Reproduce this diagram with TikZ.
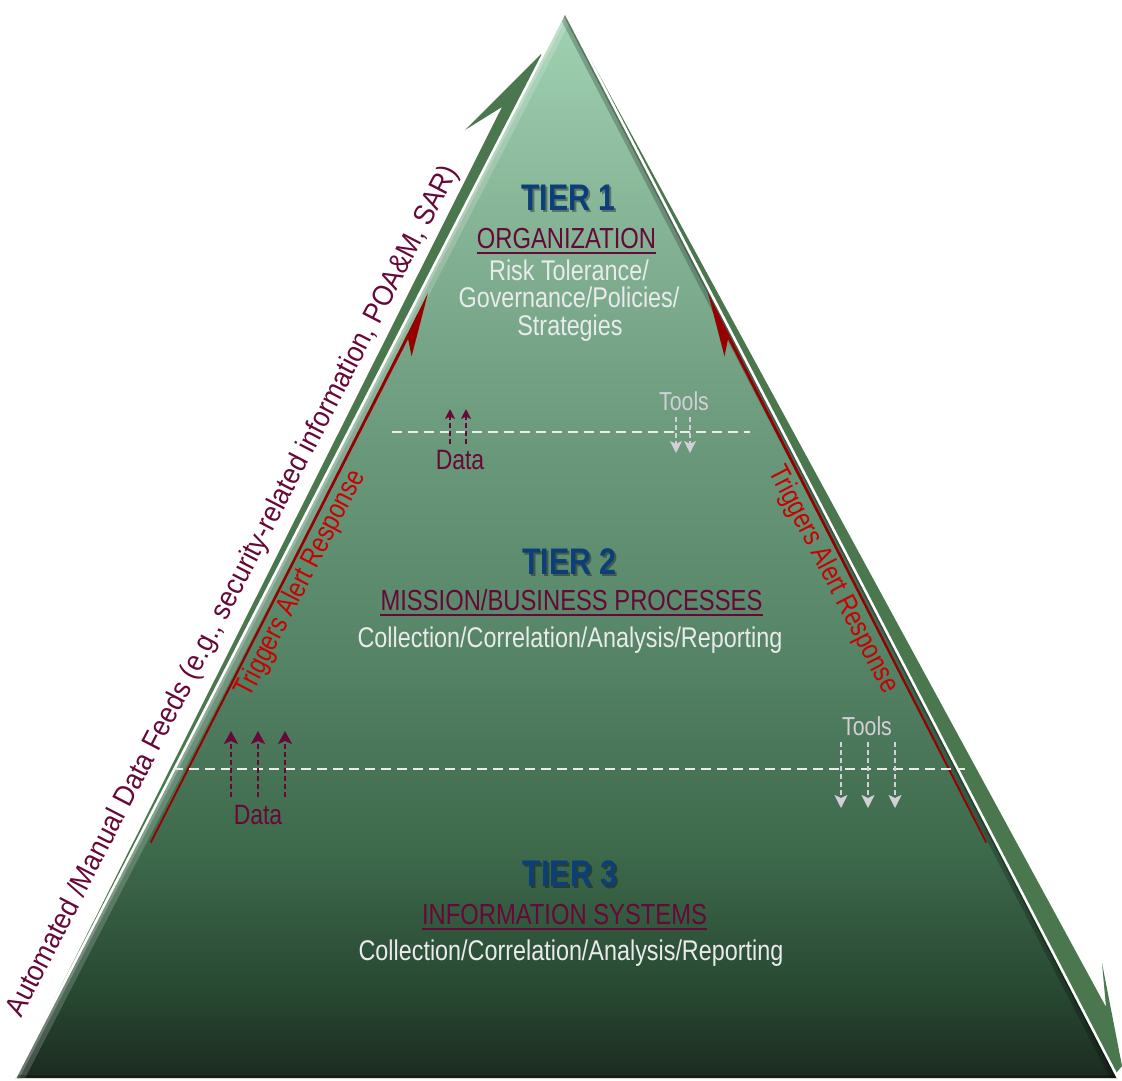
\documentclass[tikz,border=0pt]{standalone}
\usepackage{fontspec}
\setmainfont[FakeStretch=0.82]{Liberation Sans}
\newfontfamily\feedfont[FakeStretch=0.91]{Liberation Sans}
\usetikzlibrary{arrows.meta,calc}

\definecolor{bandgreen}{RGB}{74,119,77}
\definecolor{tierblue}{RGB}{12,62,122}
\definecolor{maroon}{RGB}{102,8,56}
\definecolor{alertred}{RGB}{204,0,0}
\definecolor{arrowred}{RGB}{150,0,0}
\definecolor{lighttext}{RGB}{234,234,236}
\definecolor{toolgrey}{RGB}{212,206,216}
\definecolor{dashwhite}{RGB}{236,236,236}
\definecolor{pc0}{RGB}{28,42,32}
\definecolor{pc1}{RGB}{38,70,48}
\definecolor{pc2}{RGB}{62,106,76}
\definecolor{pc3}{RGB}{86,132,102}
\definecolor{pc4}{RGB}{106,152,122}
\definecolor{pc5}{RGB}{130,176,146}
\definecolor{pc6}{RGB}{160,210,178}
\pgfdeclareverticalshading{pyr}{100bp}{color(0bp)=(pc0); color(25bp)=(pc0); color(28.7bp)=(pc1); color(35.7bp)=(pc2); color(45.1bp)=(pc3); color(54.5bp)=(pc4); color(63.8bp)=(pc5); color(75bp)=(pc6); color(100bp)=(pc6)}

\newcommand\tierlabel[3]{%
  \node[tiershadow] (#1s) at ($(#2)+(2,2)$) {#3};
  \node[tier] (#1) at (#2) {#3};}

\begin{document}
\begin{tikzpicture}[x=1pt,y=-1pt,
  lbl/.style={inner sep=0pt, anchor=base},
  tier/.style={lbl, font=\bfseries\fontsize{37}{37}\selectfont, text=tierblue},
  tiershadow/.style={lbl, font=\bfseries\fontsize{37}{37}\selectfont, text=black, text opacity=0.35},
  head/.style={lbl, font=\fontsize{29}{29}\selectfont, text=maroon},
  body/.style={lbl, font=\fontsize{28.5}{28.5}\selectfont, text=lighttext},
  datalbl/.style={lbl, font=\fontsize{28}{28}\selectfont, text=maroon},
  toollbl/.style={lbl, font=\fontsize{26}{26}\selectfont, text=toolgrey},
  alert/.style={inner sep=0pt, font=\fontsize{28.5}{28.5}\selectfont, text=alertred},
  sepline/.style={dashwhite, line width=2pt, dash pattern=on 10pt off 6pt},
  dataarrow/.style={maroon, line width=2pt, dash pattern=on 5pt off 3pt, -{Stealth[length=13pt,width=14pt,inset=3pt]}},
  dataarrowsm/.style={maroon, line width=1.8pt, dash pattern=on 5pt off 3pt, -{Stealth[length=10pt,width=10pt,inset=2.5pt]}},
  toolarrow/.style={toolgrey, line width=2pt, dash pattern=on 5pt off 3pt, -{Stealth[length=13pt,width=13pt,inset=3pt]}},
  toolarrowsm/.style={toolgrey, line width=1.8pt, dash pattern=on 5pt off 3pt, -{Stealth[length=12pt,width=12pt,inset=3pt]}},
  uline/.style={maroon, line width=2.2pt}
]
\useasboundingbox (0,0) rectangle (1122,1080);
\fill[white] (0,0) rectangle (1122,1080);

\coordinate (apex) at (565,12);
\coordinate (bl) at (15,1078);
\coordinate (br) at (1118,1078);

% green feed bands
\fill[bandgreen] (bl) -- (502,107) -- (465,130) -- (541,54) -- (550,64) -- (22,1078) -- cycle;
\fill[bandgreen] (apex) -- (1106,1007) -- (1102,963) -- (1122,1066) -- (1112,1078) -- cycle;

% pyramid
\shade[shading=pyr] (apex) -- (br) -- (bl) -- cycle;
\begin{scope}
  \clip (apex) -- (br) -- (bl) -- cycle;
  \draw[white, opacity=0.18, line width=18pt] (bl) -- (apex);
  \draw[white, opacity=0.22, line width=8pt] (bl) -- (apex);
  \draw[black, opacity=0.22, line width=14pt] (apex) -- (br);
  \draw[black, opacity=0.25, line width=6pt] (apex) -- (br);
  \draw[black, opacity=0.25, line width=6pt] (bl) -- (br);
\end{scope}
\draw[white, line width=2.5pt, line join=miter] (bl) -- (apex) -- (br);

% red trigger arrows
\fill[arrowred] (150,842) -- (428,293) -- (411.6,356.4) -- (408.1,339) -- (151.5,843) -- cycle;
\fill[arrowred] (987,842) -- (708,293) -- (724.5,356.4) -- (728,339) -- (985.5,843) -- cycle;

% dashed separators
\coordinate (s1l) at (392,432); \coordinate (s1r) at (750,432);
\coordinate (s2l) at (173,769); \coordinate (s2r) at (965,769);
\draw[sepline] (s1l) -- (s1r);
\draw[sepline] (s2l) -- (s2r);

% data / tools arrows
\foreach \x [count=\i] in {450,466} {
  \coordinate (du\i a) at (\x,444); \coordinate (du\i b) at (\x,409);
  \draw[dataarrowsm] (du\i a) -- (du\i b);}
\foreach \x [count=\i] in {231,258,285} {
  \coordinate (dl\i a) at (\x,797); \coordinate (dl\i b) at (\x,731);
  \draw[dataarrow] (dl\i a) -- (dl\i b);}
\foreach \x [count=\i] in {676,690} {
  \coordinate (tu\i a) at (\x,417); \coordinate (tu\i b) at (\x,453);
  \draw[toolarrowsm] (tu\i a) -- (tu\i b);}
\foreach \x [count=\i] in {841,868,895} {
  \coordinate (tl\i a) at (\x,742); \coordinate (tl\i b) at (\x,808);
  \draw[toolarrow] (tl\i a) -- (tl\i b);}

\node[datalbl] (dataU) at (460,469) {Data};
\node[datalbl] (dataL) at (258,824) {Data};
\node[toollbl] (toolsU) at (684,410) {Tools};
\node[toollbl] (toolsL) at (867,735) {Tools};

% tier texts
\coordinate (t1p) at (568.5,210);
\coordinate (t2p) at (569.5,574);
\coordinate (t3p) at (570,886);
\tierlabel{tierA}{t1p}{TIER 1}
\tierlabel{tierB}{t2p}{TIER 2}
\tierlabel{tierC}{t3p}{TIER 3}

\node[head] (org) at (566.5,248) {ORGANIZATION};
\node[body] (risk) at (569,280) {Risk Tolerance/};
\node[body] (gov) at (569,307) {Governance/Policies/};
\node[body] (strat) at (570,335) {Strategies};

\node[head] (mis) at (571.5,610) {MISSION/BUSINESS PROCESSES};
\node[body] (col2) at (570,647) {Collection/Correlation/Analysis/Reporting};

\node[head] (inf) at (564.5,924) {INFORMATION SYSTEMS};
\node[body] (col3) at (571,960) {Collection/Correlation/Analysis/Reporting};

\foreach \n in {org,mis,inf}
  \draw[uline] ([yshift=-5pt]\n.base west) -- ([yshift=-5pt]\n.base east);

% rotated labels
\node[rotate=62.7, anchor=base, inner sep=0pt, font=\feedfont\fontsize{29}{29}\selectfont, text=maroon] (feed) at (240,595) {Automated /Manual Data Feeds (e.g., security-related information, POA\&M, SAR)};
\node[alert, rotate=62.7] (alertL) at (301,584) {Triggers Alert Response};
\node[alert, rotate=-62.6] (alertR) at (833,580) {Triggers Alert Response};
\end{tikzpicture}
\end{document}
